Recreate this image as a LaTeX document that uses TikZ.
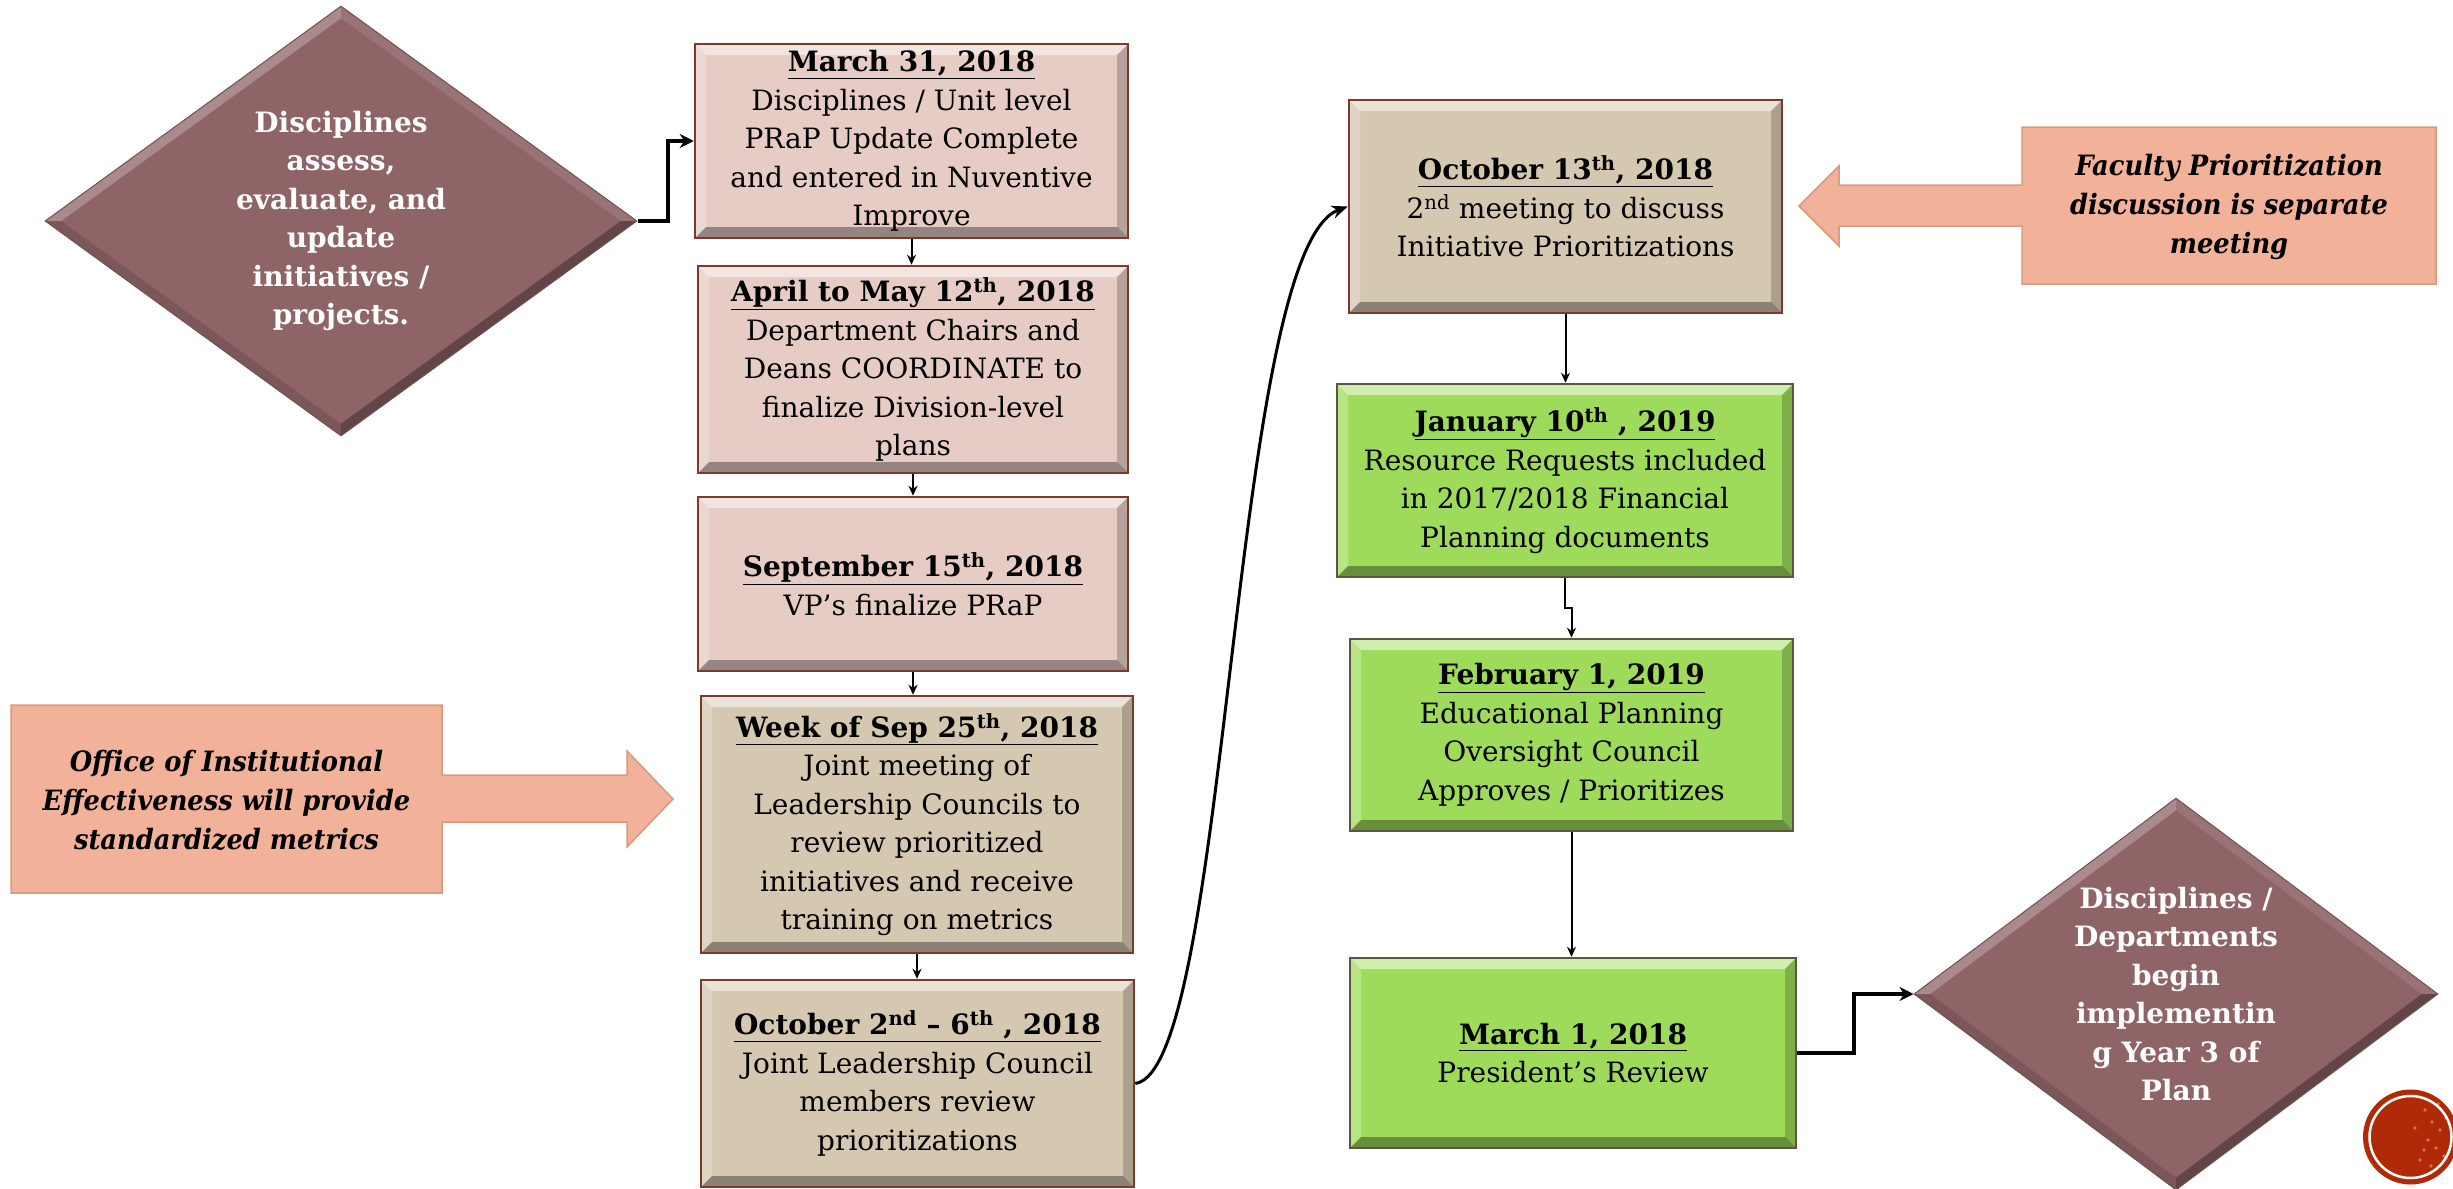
\documentclass[tikz,border=0pt]{standalone}
\usepackage{fontspec}
\setmainfont{DejaVu Serif}
\newfontfamily\callfont[FakeStretch=0.92]{DejaVu Serif}
\usetikzlibrary{shapes.geometric,arrows.meta}
\definecolor{pinkfill}{HTML}{E6CCC4}
\definecolor{tanfill}{HTML}{D5C8B1}
\definecolor{greenfill}{HTML}{9FDB5B}
\definecolor{diafill}{HTML}{8E6466}
\definecolor{callfill}{HTML}{F2B29A}
\definecolor{callline}{HTML}{D49C7C}
\definecolor{brownline}{HTML}{7A3A2C}
\definecolor{greenline}{HTML}{5C5444}
\definecolor{logored}{HTML}{B02A08}
\newcommand{\boxtitle}[1]{\underline{\textbf{#1}}}
\tikzset{
  bev/.style={path picture={
    \fill[white,opacity=0.5] (path picture bounding box.north west) -- (path picture bounding box.north east)
      -- ([shift={(-11pt,-11pt)}]path picture bounding box.north east) -- ([shift={(11pt,-11pt)}]path picture bounding box.north west) -- cycle;
    \fill[white,opacity=0.25] (path picture bounding box.north west) -- ([shift={(11pt,-11pt)}]path picture bounding box.north west)
      -- ([shift={(11pt,11pt)}]path picture bounding box.south west) -- (path picture bounding box.south west) -- cycle;
    \fill[black,opacity=0.2] (path picture bounding box.north east) -- (path picture bounding box.south east)
      -- ([shift={(-11pt,11pt)}]path picture bounding box.south east) -- ([shift={(-11pt,-11pt)}]path picture bounding box.north east) -- cycle;
    \fill[black,opacity=0.35] (path picture bounding box.south west) -- (path picture bounding box.south east)
      -- ([shift={(-11pt,11pt)}]path picture bounding box.south east) -- ([shift={(11pt,11pt)}]path picture bounding box.south west) -- cycle;
  }},
  diabev/.style={path picture={
    \fill[white,opacity=0.25] (path picture bounding box.west) -- (path picture bounding box.north)
      -- ([yshift=-12pt]path picture bounding box.north) -- ([xshift=16pt]path picture bounding box.west) -- cycle;
    \fill[white,opacity=0.1] (path picture bounding box.north) -- (path picture bounding box.east)
      -- ([xshift=-16pt]path picture bounding box.east) -- ([yshift=-12pt]path picture bounding box.north) -- cycle;
    \fill[black,opacity=0.3] (path picture bounding box.east) -- (path picture bounding box.south)
      -- ([yshift=12pt]path picture bounding box.south) -- ([xshift=-16pt]path picture bounding box.east) -- cycle;
    \fill[black,opacity=0.12] (path picture bounding box.south) -- (path picture bounding box.west)
      -- ([xshift=16pt]path picture bounding box.west) -- ([yshift=12pt]path picture bounding box.south) -- cycle;
  }},
  boxbase/.style={rectangle, draw, line width=2.5pt, inner sep=3pt, align=center, text=black,
    font=\fontsize{28}{38.5}\selectfont, bev},
  pinkbox/.style={boxbase, fill=pinkfill, draw=brownline},
  tanbox/.style={boxbase, fill=tanfill, draw=brownline},
  greenbox/.style={boxbase, fill=greenfill, draw=greenline},
  diabox/.style={diamond, shape aspect=1.38, fill=diafill, draw=diafill!80!black, line width=1pt,
    inner sep=0pt, align=center, text=white, font=\fontsize{28}{38.5}\selectfont\bfseries, diabev},
  callshape/.style={fill=callfill, draw=callline, line width=1.5pt},
  calltext/.style={align=center, text=black, inner sep=0pt, font=\callfont\fontsize{28}{39}\selectfont\bfseries\itshape},
  conn/.style={draw=black, line width=2pt, -{Stealth[length=10pt,width=9pt]}},
  connthick/.style={draw=black, line width=4pt, -{Stealth[length=14pt,width=14pt]}},
  conncurve/.style={draw=black, line width=3pt, -{Stealth[length=16pt,width=13pt]}},
}
\begin{document}
\begin{tikzpicture}[x=1pt,y=-1pt]
\useasboundingbox (0,0) rectangle (2453,1189);
\fill[white] (0,0) rectangle (2453,1189);

% left diamond
\node[diabox, minimum width=592pt, minimum height=430pt] (dia1) at (341,221)
  {Disciplines\\assess,\\evaluate, and\\update\\initiatives /\\projects.};

% left column
\node[pinkbox, minimum width=433pt, minimum height=194pt] (m31) at (911.5,141)
  {\boxtitle{March 31, 2018}\\Disciplines / Unit level\\PRaP Update Complete\\and entered in Nuventive\\Improve};
\node[pinkbox, minimum width=430pt, minimum height=207pt] (apr) at (913,369.5)
  {\boxtitle{April to May 12\textsuperscript{th}, 2018}\\Department Chairs and\\Deans COORDINATE to\\finalize Division-level\\plans};
\node[pinkbox, minimum width=430pt, minimum height=174pt] (sep) at (913,584)
  {\boxtitle{September 15\textsuperscript{th}, 2018}\\VP’s finalize PRaP};
\node[tanbox, minimum width=432pt, minimum height=257pt] (week) at (917,824.5)
  {\boxtitle{Week of Sep 25\textsuperscript{th}, 2018}\\Joint meeting of\\Leadership Councils to\\review prioritized\\initiatives and receive\\training on metrics};
\node[tanbox, minimum width=433pt, minimum height=207pt] (oct2) at (917.5,1083.5)
  {\boxtitle{October 2\textsuperscript{nd} – 6\textsuperscript{th} , 2018}\\Joint Leadership Council\\members review\\prioritizations};

% right column
\node[tanbox, minimum width=433pt, minimum height=213pt] (oct13) at (1565.5,206.5)
  {\boxtitle{October 13\textsuperscript{th}, 2018}\\2\textsuperscript{nd} meeting to discuss\\Initiative Prioritizations};
\node[greenbox, minimum width=456pt, minimum height=193pt] (jan) at (1565,480.5)
  {\boxtitle{January 10\textsuperscript{th} , 2019}\\Resource Requests included\\in 2017/2018 Financial\\Planning documents};
\node[greenbox, minimum width=443pt, minimum height=192pt] (feb) at (1571.5,735)
  {\boxtitle{February 1, 2019}\\Educational Planning\\Oversight Council\\Approves / Prioritizes};
\node[greenbox, minimum width=446pt, minimum height=190pt] (mar1) at (1573,1053)
  {\boxtitle{March 1, 2018}\\President’s Review};

% right diamond
\node[diabox, minimum width=524pt, minimum height=392pt] (dia2) at (2176,994)
  {Disciplines /\\Departments\\begin\\implementin\\g Year 3 of\\Plan};

% callout arrows
\draw[callshape] (11,705) -- (442,705) -- (442,775) -- (627,775) -- (627,751) -- (673,799)
  -- (627,847) -- (627,822) -- (442,822) -- (442,893) -- (11,893) -- cycle;
\node[calltext] (office) at (226.5,800)
  {Office of Institutional\\Effectiveness will provide\\standardized metrics};
\draw[callshape] (2436,127) -- (2022,127) -- (2022,185) -- (1839,185) -- (1839,166) -- (1799,206)
  -- (1839,246) -- (1839,226) -- (2022,226) -- (2022,284) -- (2436,284) -- cycle;
\node[calltext] (faculty) at (2229,207)
  {Faculty Prioritization\\discussion is separate\\meeting};

% connectors
\draw[connthick] (dia1.east) -- ++(30pt,0) |- (m31.west);
\draw[conn] (m31.south) -- (m31.south |- apr.north);
\draw[conn] (apr.south) -- (apr.south |- sep.north);
\draw[conn] (sep.south) -- (sep.south |- week.north);
\draw[conn] (week.south) -- (week.south |- oct2.north);
\draw[conncurve] (oct2.east) .. controls (1230,1070) and (1230,250) .. (oct13.west);
\draw[conn] (oct13.south) -- (oct13.south |- jan.north);
\draw[conn] (jan.south) -- ++(0,-30pt) -| (feb.north);
\draw[conn] (feb.south) -- (feb.south |- mar1.north);
\draw[connthick] (mar1.east) -- ++(57pt,0) |- (dia2.west);

% logo
\fill[logored] (2410.5,1137) circle[radius=47.5pt];
\draw[white, line width=2.5pt] (2410.5,1137) circle[radius=41pt];
\foreach \px/\py in {2425/1110,2432/1122,2440/1130,2428/1140,2436/1148,2444/1156,2420/1160,2431/1166,2446/1118,2415/1128,2438/1104,2424/1150}
  \fill[white,opacity=0.35] (\px,\py) circle[radius=1.8pt];
\end{tikzpicture}
\end{document}
